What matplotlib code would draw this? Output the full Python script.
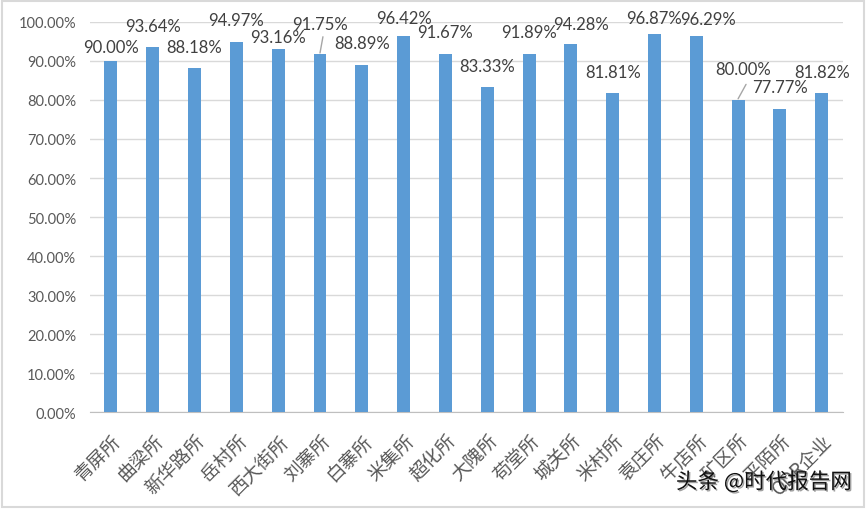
import matplotlib.pyplot as plt
from matplotlib.ticker import FuncFormatter, MultipleLocator
from matplotlib.patches import Rectangle
import matplotlib.patheffects as pe

plt.rcParams['font.family'] = ['Noto Sans CJK SC', 'DejaVu Sans']

names = ['青屏所', '曲梁所', '新华路所', '岳村所', '西大街所', '刘寨所', '白寨所', '米集所',
         '超化所', '大隗所', '苟堂所', '城关所', '米村所', '袁庄所', '牛店所', '矿区所',
         '平陌所', 'ODR企业']
rates = [0.9000, 0.9364, 0.8818, 0.9497, 0.9316, 0.9175, 0.8889, 0.9642,
         0.9167, 0.8333, 0.9189, 0.9428, 0.8181, 0.9687, 0.9629, 0.8000,
         0.7777, 0.8182]
# where the data labels sit (label centre height)
label_y = [0.936, 0.990, 0.936, 1.005, 0.962, 0.995, 0.946, 1.010,
           0.974, 0.887, 0.974, 0.995, 0.872, 1.010, 1.008, 0.880,
           0.833, 0.872]
label_dx = [0, 0, 0, 0, 0, 0, 0, 0, 0, 0, 0, 0.25, 0, 0, 0.28, 0.12, 0, 0]
leader = {5: 0.962, 15: 0.840}

fig = plt.figure(figsize=(8.66, 5.10), dpi=100)
ax = fig.add_axes([0.104, 0.190, 0.869, 0.765])

x = list(range(len(names)))
ax.bar(x, rates, width=0.31, color='#5B9BD5', zorder=3)

ax.set_xlim(-0.5, len(names) - 0.5)
ax.set_ylim(0, 1.0)
ax.yaxis.set_major_locator(MultipleLocator(0.1))
ax.yaxis.set_major_formatter(FuncFormatter(lambda v, p: '%.2f%%' % (v * 100)))
ax.grid(axis='y', color='#d9d9d9', linewidth=1, zorder=0)
for s in ['top', 'right', 'left']:
    ax.spines[s].set_visible(False)
ax.spines['bottom'].set_color('#bfbfbf')
ax.tick_params(axis='y', length=0, labelsize=10.5, labelcolor='#595959', pad=10)
ax.tick_params(axis='x', length=0, pad=13)
ax.set_xticks(x)
ax.set_xticklabels(names, rotation=45, ha='right', va='top', rotation_mode='anchor',
                   fontsize=13.5, color='#595959', fontweight='light')
for t in ax.get_yticklabels():
    t.set_family(['Lato', 'DejaVu Sans'])

for i, v in enumerate(rates):
    lx = i + label_dx[i]
    ly = label_y[i]
    ax.text(lx, ly, '%.2f%%' % (v * 100), ha='center', va='center', fontsize=12,
            color='#404040', family=['Lato', 'DejaVu Sans'], zorder=4)
    if i in leader:
        ax.annotate('', xy=(i, v + 0.003), xytext=(lx + 0.07, leader[i]),
                    arrowprops=dict(arrowstyle='-', color='#a6a6a6', lw=1,
                                    shrinkA=0, shrinkB=0))

fig.text(0.882, 0.052, '头条 @时代报告网', ha='center', va='center', fontsize=15.5,
         color='#111111',
         path_effects=[pe.SimplePatchShadow(offset=(1, -1), shadow_rgbFace='#888888', alpha=0.8),
                       pe.Normal()])

fig.patches.append(Rectangle((0.002, 0.003), 0.996, 0.994, transform=fig.transFigure,
                             fill=False, edgecolor='#d9d9d9', linewidth=1.5))

fig.savefig('out.png', dpi=100)
